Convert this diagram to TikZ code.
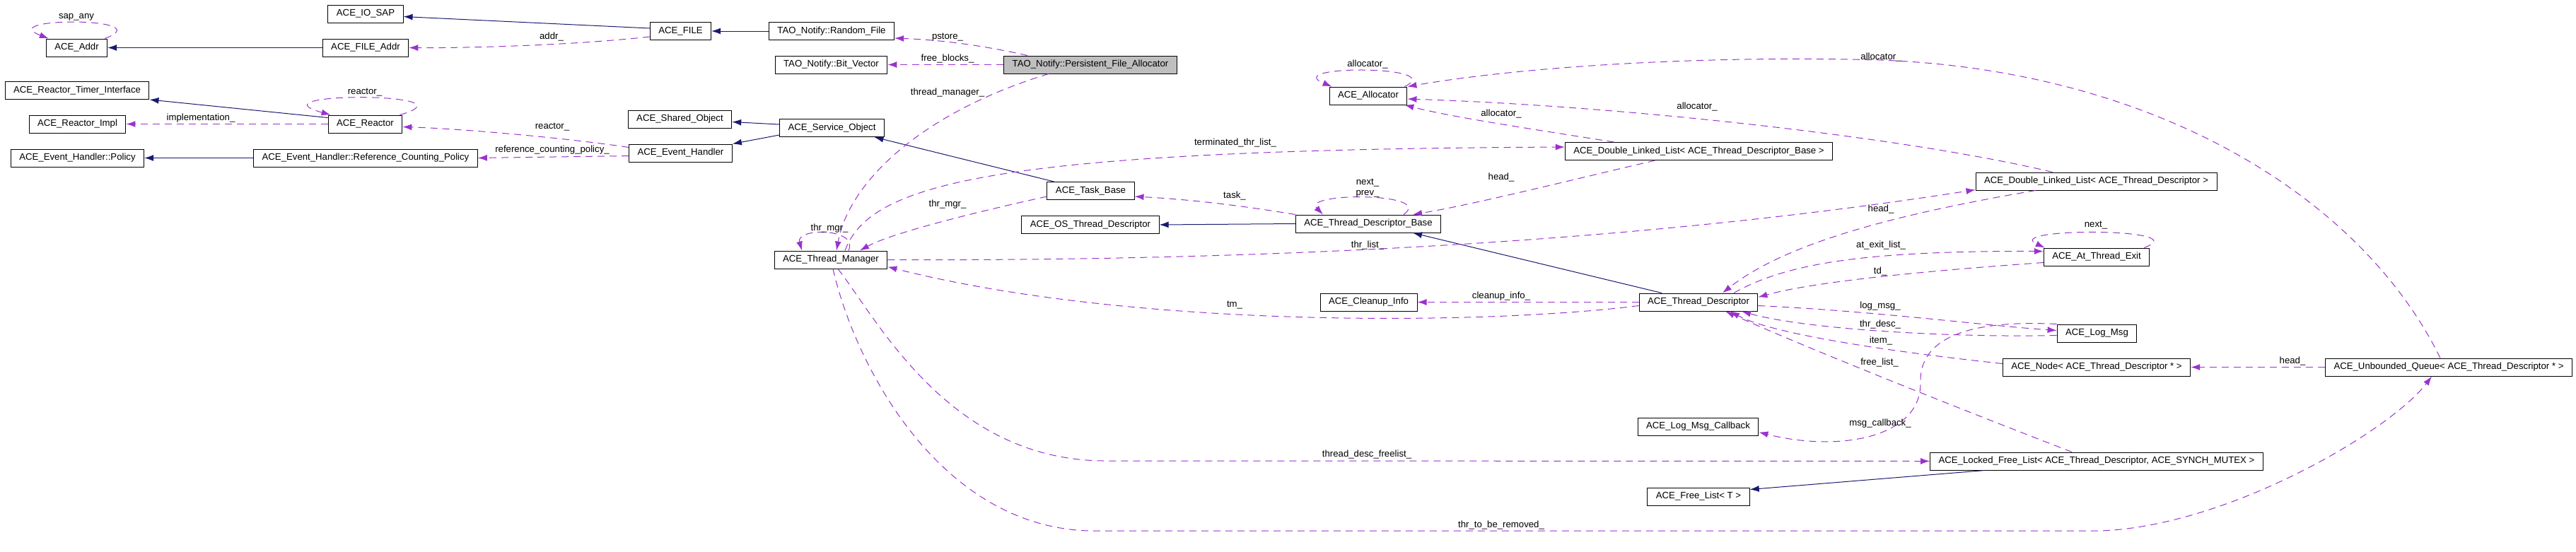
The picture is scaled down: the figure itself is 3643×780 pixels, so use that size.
\documentclass[tikz,border=0pt]{standalone}
\usepackage{fontspec}
\setmainfont{Liberation Sans}
\usetikzlibrary{arrows.meta}
\definecolor{erbblau}{HTML}{191970}
\definecolor{nutzlila}{HTML}{9A32CD}
\definecolor{kastengrau}{HTML}{BFBFBF}
\tikzset{
  klasse/.style={draw=black, line width=1pt, minimum height=25pt, inner xsep=12pt, inner ysep=0pt, font=\fontsize{13.2}{15}\selectfont},
  erbt/.style={draw=erbblau, line width=1pt, -{Latex[length=13pt,width=9pt]}},
  nutzt/.style={draw=nutzlila, line width=1pt, dash pattern=on 10pt off 7pt, -{Latex[length=13pt,width=9pt]}},
  beschr/.style={inner sep=0pt, font=\fontsize{13.2}{15}\selectfont},
}
\begin{document}
\begin{tikzpicture}[x=1pt, y=-1pt]
            \useasboundingbox (0,0) rectangle (3643,780);

            % Klassen
            \node[klasse] (ioSap) at (517,19.5) {ACE\_IO\_SAP};
            \node[klasse] (addr) at (108.5,67.5) {ACE\_Addr};
            \node[klasse] (fileAddr) at (517,67.5) {ACE\_FILE\_Addr};
            \node[klasse] (file) at (962.5,44) {ACE\_FILE};
            \node[klasse] (randomFile) at (1176,44) {TAO\_Notify::Random\_File};
            \node[klasse] (bitVector) at (1175.5,91.5) {TAO\_Notify::Bit\_Vector};
            \node[klasse, fill=kastengrau] (pfa) at (1542,91.5) {TAO\_Notify::Persistent\_File\_Allocator};
            \node[klasse] (rti) at (109,128) {ACE\_Reactor\_Timer\_Interface};
            \node[klasse] (reactorImpl) at (109.5,175.5) {ACE\_Reactor\_Impl};
            \node[klasse] (reactor) at (516.5,175.5) {ACE\_Reactor};
            \node[klasse] (policy) at (109.5,223.5) {ACE\_Event\_Handler::Policy};
            \node[klasse] (rcp) at (517,223.5) {ACE\_Event\_Handler::Reference\_Counting\_Policy};
            \node[klasse] (sharedObj) at (961.5,168.5) {ACE\_Shared\_Object};
            \node[klasse] (serviceObj) at (1176.5,181) {ACE\_Service\_Object};
            \node[klasse] (eventHandler) at (962.5,216.5) {ACE\_Event\_Handler};
            \node[klasse] (taskBase) at (1542.5,270) {ACE\_Task\_Base};
            \node[klasse] (osTd) at (1542,318) {ACE\_OS\_Thread\_Descriptor};
            \node[klasse] (tm) at (1175,367.5) {ACE\_Thread\_Manager};
            \node[klasse] (allocator) at (1935,135.5) {ACE\_Allocator};
            \node[klasse] (dllTdb) at (2402.5,214) {ACE\_Double\_Linked\_List< ACE\_Thread\_Descriptor\_Base >};
            \node[klasse] (tdb) at (1935,316.5) {ACE\_Thread\_Descriptor\_Base};
            \node[klasse] (cleanup) at (1935.5,427.5) {ACE\_Cleanup\_Info};
            \node[klasse] (td) at (2402,427.5) {ACE\_Thread\_Descriptor};
            \node[klasse] (logCb) at (2401.5,603.5) {ACE\_Log\_Msg\_Callback};
            \node[klasse] (freeList) at (2402,702.5) {ACE\_Free\_List< T >};
            \node[klasse] (dllTd) at (2964.5,256.5) {ACE\_Double\_Linked\_List< ACE\_Thread\_Descriptor >};
            \node[klasse] (ate) at (2965,363.5) {ACE\_At\_Thread\_Exit};
            \node[klasse] (logMsg) at (2965.5,471.5) {ACE\_Log\_Msg};
            \node[klasse] (node) at (2965,519.5) {ACE\_Node< ACE\_Thread\_Descriptor * >};
            \node[klasse] (lfl) at (2965,652.5) {ACE\_Locked\_Free\_List< ACE\_Thread\_Descriptor, ACE\_SYNCH\_MUTEX >};
            \node[klasse] (uq) at (3463,519.5) {ACE\_Unbounded\_Queue< ACE\_Thread\_Descriptor * >};

            % Vererbung
            \draw[erbt] ([yshift=4pt]file.west) -- ([yshift=-4pt]ioSap.east);
            \draw[erbt] (fileAddr.west) -- (addr.east);
            \draw[erbt] (randomFile.west) -- (file.east);
            \draw[erbt] ([yshift=-4pt]reactor.north west) -- (rti.south east);
            \draw[erbt] (rcp.west) -- (policy.east);
            \draw[erbt] ([yshift=5pt]serviceObj.west) -- ([yshift=-4pt]sharedObj.east);
            \draw[erbt] ([yshift=-10pt]serviceObj.west) -- (eventHandler.north east);
            \draw[erbt] ([xshift=-52pt]taskBase.north) -- ([xshift=60pt]serviceObj.south);
            \draw[erbt] (tdb.west) -- (osTd.east);
            \draw[erbt] ([xshift=-52pt]td.north) -- ([xshift=63pt]tdb.south);
            \draw[erbt] ([xshift=-158pt]lfl.south) -- ([yshift=10pt]freeList.east);

            % Benutzung, links
            \draw[nutzt] ([xshift=-4pt]addr.north east) .. controls (230,24) and (-10,24) .. ([xshift=4pt]addr.north west);
            \draw[nutzt] ([yshift=-8pt]file.west) .. controls (800,65) and (650,68) .. (fileAddr.east);
            \draw[nutzt] ([xshift=-4pt]reactor.north east) .. controls (680,130) and (350,130) .. ([xshift=4pt]reactor.north west);
            \draw[nutzt] (reactor.west) -- (reactorImpl.east);
            \draw[nutzt] ([yshift=8pt]eventHandler.west) .. controls (800,195) and (650,182) .. ([yshift=-4pt]reactor.east);
            \draw[nutzt] ([yshift=-4pt]eventHandler.west) -- (rcp.east);
            \draw[nutzt] ([xshift=-89pt]pfa.north) .. controls (1380,62) and (1320,56) .. ([yshift=-10pt]randomFile.east);
            \draw[nutzt] (pfa.west) -- (bitVector.east);
            \draw[nutzt] ([xshift=-59pt]pfa.south) .. controls (1300,160) and (1200,260) .. ([xshift=8pt]tm.north);
            \draw[nutzt] ([xshift=25pt]tm.north) .. controls (1215,322) and (1125,322) .. ([xshift=-41pt]tm.north);
            \draw[nutzt] ([xshift=20pt]tm.north) .. controls (1230,260) and (1400,212) .. ([yshift=6pt]dllTdb.west);
            \draw[nutzt] ([yshift=-8pt]taskBase.west) .. controls (1380,300) and (1260,330) .. ([xshift=41pt]tm.north);

            % Benutzung, Mitte
            \draw[nutzt] ([xshift=-4pt]allocator.north east) .. controls (2050,92) and (1810,92) .. ([xshift=4pt]allocator.north west);
            \draw[nutzt] ([xshift=-12pt]uq.north) .. controls (3340,280) and (3050,100) .. (2660,85) .. controls (2400,78) and (2150,95) .. ([yshift=13pt]allocator.east);
            \draw[nutzt] ([xshift=-62pt]dllTd.north) .. controls (2700,195) and (2300,150) .. ([yshift=-4.5pt]allocator.east);
            \draw[nutzt] ([xshift=-120pt]dllTdb.north) .. controls (2150,180) and (2050,165) .. ([xshift=-4pt]allocator.south east);
            \draw[nutzt] ([xshift=-62pt]dllTdb.south) .. controls (2200,260) and (2080,290) .. ([xshift=63pt]tdb.north);
            \draw[nutzt] ([xshift=50pt]tdb.north) .. controls (2030,272) and (1840,272) .. ([xshift=-64pt]tdb.north);
            \draw[nutzt] (tdb.north west) .. controls (1750,290) and (1680,282) .. ([yshift=-8pt]taskBase.east);
            \draw[nutzt] (tm.east) .. controls (1900,370) and (2400,330) .. ([yshift=-12pt]dllTd.west);
            \draw[nutzt] ([yshift=-5pt]td.west) .. controls (2100,460) and (1600,465) .. ([yshift=-10pt]tm.east);
            \draw[nutzt] (td.west) -- (cleanup.east);
            \draw[nutzt] ([xshift=10pt]tm.south) .. controls (1240,450) and (1340,650) .. (1560,652) -- (lfl.west);
            \draw[nutzt] ([xshift=3pt]tm.south) .. controls (1210,520) and (1330,745) .. (1540,751) -- (2970,751) .. controls (3150,745) and (3380,610) .. ([xshift=-24pt]uq.south);

            % Benutzung, rechts
            \draw[nutzt] ([xshift=-86pt]dllTd.south) .. controls (2700,300) and (2530,340) .. ([xshift=34pt]td.north);
            \draw[nutzt] ([xshift=50pt]td.north) .. controls (2530,370) and (2650,355) .. ([yshift=8pt]ate.west);
            \draw[nutzt] ([xshift=-8pt]ate.north east) .. controls (3110,322) and (2830,322) .. ([xshift=2pt]ate.north west);
            \draw[nutzt] ([yshift=-8pt]ate.west) .. controls (2700,385) and (2560,400) .. ([yshift=7pt]td.east);
            \draw[nutzt] ([yshift=-5pt]td.east) .. controls (2650,440) and (2800,460) .. ([yshift=4pt]logMsg.west);
            \draw[nutzt] ([yshift=-3pt]logMsg.west) .. controls (2750,478) and (2550,465) .. ([xshift=61pt]td.south);
            \draw[nutzt] ([yshift=5pt]node.west) .. controls (2650,495) and (2500,470) .. ([xshift=45pt]td.south);
            \draw[nutzt] ([xshift=-35pt]lfl.north) .. controls (2750,570) and (2550,490) .. ([xshift=38pt]td.south);
            \draw[nutzt] (logMsg.north west) .. controls (2780,452) and (2715,480) .. (2716,540) .. controls (2718,620) and (2600,640) .. ([yshift=-8pt]logCb.east);
            \draw[nutzt] (uq.west) -- (node.east);

            % Beschriftung der Kanten
            \node[beschr] (lSapAny) at (108,24) {sap\_any};
            \node[beschr] (lReactorSelf) at (516,131) {reactor\_};
            \node[beschr] (lImpl) at (284,167) {implementation\_};
            \node[beschr] (lAddr) at (780,52) {addr\_};
            \node[beschr] (lReactor) at (781,180) {reactor\_};
            \node[beschr] (lRcp) at (781,212) {reference\_counting\_policy\_};
            \node[beschr] (lPstore) at (1340,53) {pstore\_};
            \node[beschr] (lFreeBlocks) at (1340,83) {free\_blocks\_};
            \node[beschr] (lThreadManager) at (1340,131) {thread\_manager\_};
            \node[beschr] (lThrMgrSelf) at (1173,323) {thr\_mgr\_};
            \node[beschr] (lThrMgr) at (1340,289) {thr\_mgr\_};
            \node[beschr] (lTerminated) at (1747,202) {terminated\_thr\_list\_};
            \node[beschr] (lTask) at (1746,277) {task\_};
            \node[beschr] (lAllocSelf) at (1934,91) {allocator\_};
            \node[beschr] (lAllocTdb) at (2123,161) {allocator\_};
            \node[beschr] (lAllocTd) at (2400,151) {allocator\_};
            \node[beschr] (lAllocUq) at (2660,81) {allocator\_};
            \node[beschr] (lHeadTdb) at (2123,251) {head\_};
            \node[beschr, align=center] (lNextPrev) at (1934,266) {next\_\\prev\_};
            \node[beschr] (lThrList) at (1934,347) {thr\_list\_};
            \node[beschr] (lHeadTd) at (2660,296) {head\_};
            \node[beschr] (lNext) at (2964,319) {next\_};
            \node[beschr] (lAtExit) at (2660,347) {at\_exit\_list\_};
            \node[beschr] (lTd) at (2659,384) {td\_};
            \node[beschr] (lTm) at (1746,432) {tm\_};
            \node[beschr] (lCleanup) at (2123,419) {cleanup\_info\_};
            \node[beschr] (lLogMsg) at (2659,433) {log\_msg\_};
            \node[beschr] (lThrDesc) at (2659,459) {thr\_desc\_};
            \node[beschr] (lItem) at (2660,482) {item\_};
            \node[beschr] (lFreeList) at (2658,513) {free\_list\_};
            \node[beschr] (lMsgCb) at (2659,599) {msg\_callback\_};
            \node[beschr] (lHeadUq) at (3242,511) {head\_};
            \node[beschr] (lFreelist) at (1933,643) {thread\_desc\_freelist\_};
            \node[beschr] (lToBeRemoved) at (2123,743) {thr\_to\_be\_removed\_};
\end{tikzpicture}
\end{document}
